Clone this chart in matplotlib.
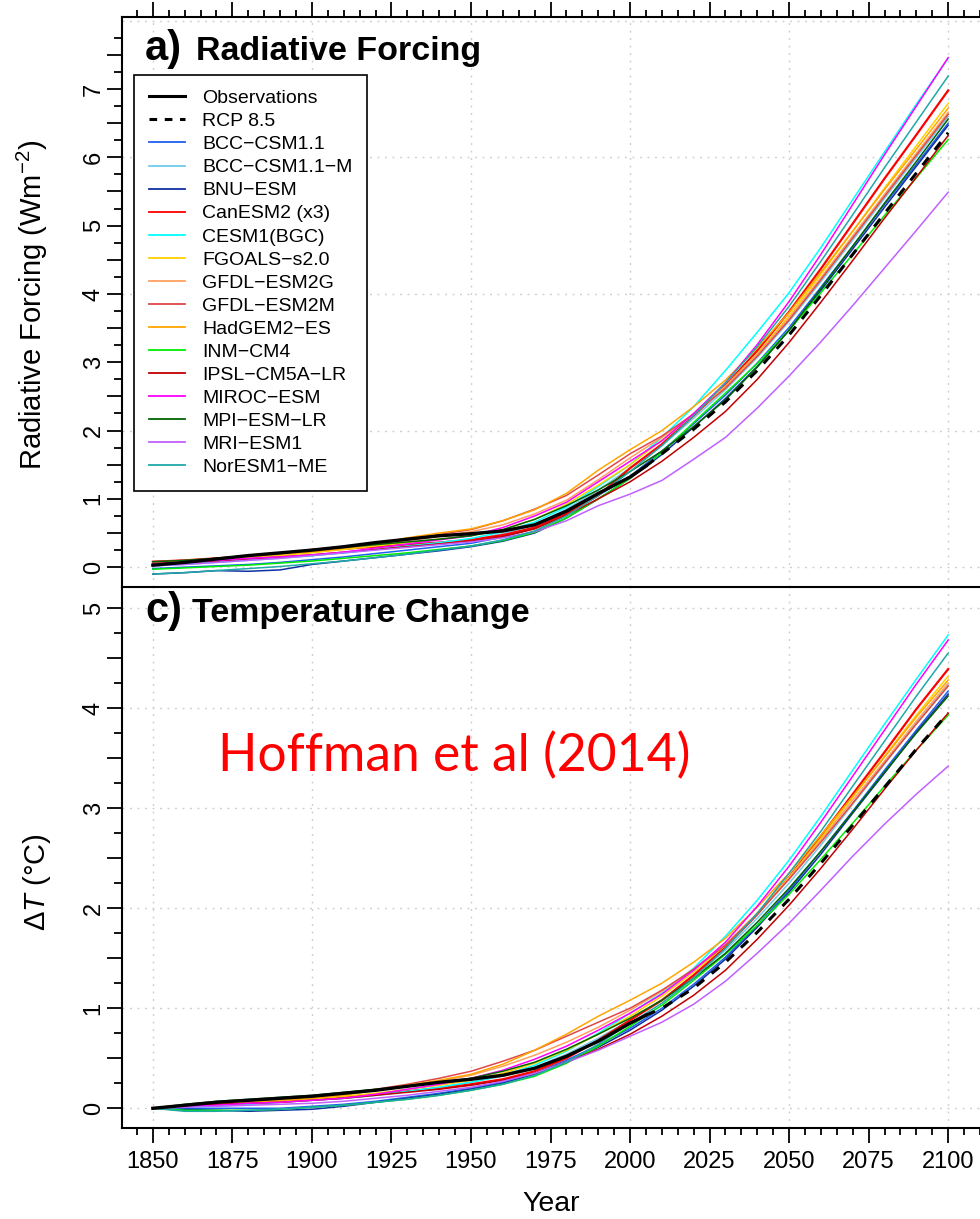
import matplotlib
matplotlib.use('Agg')
import matplotlib.pyplot as plt
from matplotlib.ticker import MultipleLocator, FixedLocator, FuncFormatter
from matplotlib.lines import Line2D

plt.rcParams['font.family'] = ['Liberation Sans', 'DejaVu Sans']
plt.rcParams['mathtext.fontset'] = 'custom'
plt.rcParams['mathtext.rm'] = 'Liberation Sans'
plt.rcParams['mathtext.it'] = 'Liberation Sans:italic'
plt.rcParams['mathtext.bf'] = 'Liberation Sans:bold'

# ---------------- data ----------------
years = [1850, 1860, 1870, 1880, 1890, 1900, 1910, 1920, 1930, 1940, 1950, 1960, 1970,
         1980, 1990, 2000, 2010, 2020, 2030, 2040, 2050, 2060, 2070, 2080, 2090, 2100]
obs_years = [1850, 1860, 1870, 1880, 1890, 1900, 1910, 1920, 1930, 1940, 1950, 1960,
             1970, 1980, 1990, 2000, 2005]
rcp_years = [2005, 2010, 2020, 2030, 2040, 2050, 2060, 2070, 2080, 2090, 2100]

model_names = ['BCC\u2212CSM1.1', 'BCC\u2212CSM1.1\u2212M', 'BNU\u2212ESM', 'CanESM2 (x3)',
               'CESM1(BGC)', 'FGOALS\u2212s2.0', 'GFDL\u2212ESM2G', 'GFDL\u2212ESM2M',
               'HadGEM2\u2212ES', 'INM\u2212CM4', 'IPSL\u2212CM5A\u2212LR', 'MIROC\u2212ESM',
               'MPI\u2212ESM\u2212LR', 'MRI\u2212ESM1', 'NorESM1\u2212ME']
model_colors = ['#2060F0', '#70CCE8', '#1030A0', '#FF0000', '#00FFFF', '#FFD000',
                '#FFA060', '#E04848', '#FFA500', '#00EE00', '#C00000', '#FF00FF',
                '#006400', '#C060FF', '#20A8A8']

# Radiative forcing (W m-2)
rf_obs = [0.03, 0.07, 0.12, 0.17, 0.21, 0.25, 0.30, 0.36, 0.41, 0.46, 0.49, 0.53, 0.62,
          0.82, 1.08, 1.32, 1.48]
rf_rcp = [1.48, 1.66, 2.02, 2.42, 2.88, 3.40, 3.98, 4.58, 5.18, 5.77, 6.36]
rf_bcc = [-0.02, 0.00, 0.02, 0.04, 0.07, 0.11, 0.15, 0.20, 0.25, 0.30, 0.35, 0.44, 0.57,
          0.80, 1.05, 1.33, 1.70, 2.10, 2.52, 2.99, 3.51, 4.10, 4.70, 5.31, 5.90, 6.50]
rf_bccm = [0.02, 0.04, 0.07, 0.10, 0.13, 0.17, 0.21, 0.26, 0.30, 0.35, 0.40, 0.49, 0.62,
           0.85, 1.13, 1.45, 1.78, 2.18, 2.60, 3.07, 3.60, 4.18, 4.79, 5.40, 6.00, 6.60]
rf_bnu = [-0.10, -0.08, -0.05, -0.06, -0.04, 0.04, 0.09, 0.14, 0.19, 0.24, 0.30, 0.38, 0.50,
          0.72, 1.00, 1.30, 1.65, 2.05, 2.47, 2.94, 3.47, 4.05, 4.66, 5.27, 5.87, 6.47]
rf_can = [0.08, 0.10, 0.13, 0.16, 0.20, 0.23, 0.27, 0.30, 0.33, 0.36, 0.40, 0.47, 0.58,
          0.78, 1.05, 1.45, 1.80, 2.22, 2.66, 3.17, 3.74, 4.37, 5.03, 5.69, 6.33, 6.98]
rf_cesm = [0.02, 0.05, 0.08, 0.11, 0.14, 0.17, 0.21, 0.26, 0.31, 0.36, 0.42, 0.52, 0.66,
           0.88, 1.18, 1.50, 1.90, 2.35, 2.88, 3.44, 4.02, 4.68, 5.38, 6.08, 6.78, 7.45]
rf_fgoals = [0.04, 0.07, 0.10, 0.13, 0.17, 0.21, 0.26, 0.31, 0.36, 0.41, 0.46, 0.55, 0.70,
             0.92, 1.20, 1.50, 1.86, 2.24, 2.65, 3.13, 3.68, 4.29, 4.92, 5.55, 6.17, 6.79]
rf_gfdlg = [0.06, 0.09, 0.12, 0.15, 0.19, 0.24, 0.28, 0.33, 0.39, 0.45, 0.52, 0.62, 0.78,
            0.98, 1.28, 1.60, 1.90, 2.25, 2.65, 3.12, 3.65, 4.24, 4.85, 5.46, 6.06, 6.66]
rf_gfdlm = [0.08, 0.10, 0.12, 0.16, 0.20, 0.26, 0.30, 0.34, 0.40, 0.48, 0.55, 0.68, 0.85,
            1.05, 1.35, 1.66, 1.92, 2.24, 2.62, 3.09, 3.62, 4.21, 4.82, 5.43, 6.03, 6.63]
rf_had = [0.05, 0.08, 0.11, 0.15, 0.19, 0.23, 0.28, 0.34, 0.43, 0.50, 0.56, 0.68, 0.84,
          1.08, 1.42, 1.72, 2.00, 2.35, 2.74, 3.21, 3.73, 4.32, 4.92, 5.53, 6.12, 6.72]
rf_inm = [-0.03, -0.01, 0.01, 0.03, 0.06, 0.09, 0.13, 0.17, 0.21, 0.26, 0.31, 0.39, 0.51,
          0.72, 1.00, 1.30, 1.68, 2.12, 2.55, 2.98, 3.47, 4.02, 4.58, 5.15, 5.70, 6.26]
rf_ipsl = [0.05, 0.07, 0.09, 0.12, 0.15, 0.18, 0.22, 0.26, 0.30, 0.34, 0.38, 0.45, 0.56,
           0.76, 1.00, 1.25, 1.55, 1.90, 2.28, 2.75, 3.29, 3.88, 4.49, 5.11, 5.71, 6.32]
rf_miroc = [0.05, 0.07, 0.10, 0.13, 0.15, 0.18, 0.22, 0.28, 0.34, 0.40, 0.46, 0.58, 0.75,
            0.95, 1.25, 1.55, 1.85, 2.25, 2.70, 3.26, 3.89, 4.58, 5.31, 6.04, 6.75, 7.46]
rf_mpi = [0.08, 0.10, 0.13, 0.17, 0.20, 0.25, 0.29, 0.33, 0.37, 0.41, 0.46, 0.55, 0.70,
          0.90, 1.13, 1.40, 1.70, 2.06, 2.45, 2.93, 3.47, 4.08, 4.70, 5.33, 5.94, 6.56]
rf_mri = [0.02, 0.04, 0.07, 0.10, 0.13, 0.17, 0.21, 0.25, 0.29, 0.33, 0.37, 0.43, 0.52,
          0.68, 0.90, 1.07, 1.27, 1.58, 1.90, 2.33, 2.80, 3.30, 3.83, 4.38, 4.93, 5.49]
rf_nor = [-0.10, -0.08, -0.05, -0.02, 0.01, 0.05, 0.09, 0.14, 0.19, 0.25, 0.31, 0.40, 0.53,
          0.75, 1.05, 1.40, 1.78, 2.22, 2.70, 3.23, 3.82, 4.48, 5.16, 5.85, 6.52, 7.19]

# Temperature change (deg C)
dt_obs = [0.00, 0.03, 0.06, 0.08, 0.10, 0.12, 0.15, 0.18, 0.22, 0.26, 0.29, 0.33, 0.40,
          0.52, 0.67, 0.85, 0.93]
dt_rcp = [0.93, 1.00, 1.20, 1.46, 1.76, 2.09, 2.45, 2.83, 3.21, 3.59, 3.95]
dt_bcc = [0.00, 0.00, 0.00, 0.00, 0.00, 0.02, 0.04, 0.07, 0.11, 0.15, 0.20, 0.26, 0.35,
          0.48, 0.63, 0.80, 1.00, 1.24, 1.51, 1.83, 2.18, 2.57, 2.97, 3.38, 3.78, 4.17]
dt_bccm = [0.00, 0.01, 0.03, 0.04, 0.06, 0.08, 0.10, 0.13, 0.17, 0.21, 0.26, 0.32, 0.41,
           0.54, 0.70, 0.88, 1.08, 1.32, 1.58, 1.90, 2.25, 2.63, 3.04, 3.44, 3.85, 4.23]
dt_bnu = [0.00, -0.01, -0.02, -0.03, -0.02, -0.01, 0.02, 0.06, 0.10, 0.14, 0.19, 0.25, 0.34,
          0.46, 0.61, 0.78, 0.98, 1.22, 1.49, 1.81, 2.16, 2.54, 2.95, 3.35, 3.76, 4.14]
dt_can = [0.00, 0.02, 0.04, 0.05, 0.07, 0.09, 0.11, 0.14, 0.17, 0.20, 0.24, 0.29, 0.37,
          0.50, 0.68, 0.88, 1.08, 1.33, 1.61, 1.94, 2.31, 2.72, 3.14, 3.56, 3.99, 4.39]
dt_cesm = [0.00, 0.01, 0.02, 0.04, 0.06, 0.08, 0.10, 0.13, 0.17, 0.21, 0.26, 0.33, 0.43,
           0.57, 0.75, 0.95, 1.15, 1.40, 1.72, 2.08, 2.48, 2.92, 3.38, 3.84, 4.29, 4.73]
dt_fgoals = [0.00, 0.02, 0.04, 0.05, 0.07, 0.09, 0.12, 0.15, 0.19, 0.23, 0.28, 0.35, 0.45,
             0.58, 0.74, 0.92, 1.12, 1.36, 1.63, 1.95, 2.31, 2.70, 3.11, 3.52, 3.93, 4.32]
dt_gfdlg = [0.00, 0.02, 0.04, 0.06, 0.08, 0.11, 0.14, 0.18, 0.22, 0.27, 0.33, 0.42, 0.53,
            0.66, 0.81, 0.98, 1.17, 1.39, 1.64, 1.95, 2.30, 2.68, 3.08, 3.47, 3.87, 4.25]
dt_gfdlm = [0.00, 0.03, 0.05, 0.07, 0.09, 0.12, 0.15, 0.19, 0.24, 0.30, 0.37, 0.47, 0.58,
            0.72, 0.86, 1.00, 1.18, 1.39, 1.63, 1.94, 2.29, 2.66, 3.05, 3.45, 3.84, 4.22]
dt_had = [0.00, 0.02, 0.04, 0.06, 0.08, 0.10, 0.13, 0.18, 0.23, 0.28, 0.34, 0.44, 0.58,
          0.74, 0.92, 1.08, 1.25, 1.46, 1.70, 2.01, 2.35, 2.73, 3.12, 3.51, 3.91, 4.28]
dt_inm = [0.00, -0.02, -0.02, -0.02, -0.01, 0.01, 0.03, 0.06, 0.09, 0.13, 0.18, 0.24, 0.32,
          0.45, 0.62, 0.82, 1.03, 1.28, 1.54, 1.83, 2.14, 2.49, 2.85, 3.22, 3.58, 3.93]
dt_ipsl = [0.00, 0.02, 0.04, 0.05, 0.06, 0.08, 0.10, 0.13, 0.16, 0.19, 0.23, 0.28, 0.35,
           0.46, 0.59, 0.74, 0.92, 1.13, 1.38, 1.69, 2.03, 2.40, 2.79, 3.19, 3.58, 3.95]
dt_miroc = [0.00, 0.02, 0.03, 0.05, 0.06, 0.08, 0.10, 0.14, 0.19, 0.24, 0.30, 0.38, 0.49,
            0.62, 0.78, 0.95, 1.14, 1.38, 1.66, 2.02, 2.42, 2.86, 3.32, 3.78, 4.24, 4.68]
dt_mpi = [0.00, 0.04, 0.07, 0.09, 0.11, 0.13, 0.16, 0.19, 0.22, 0.26, 0.30, 0.37, 0.46,
          0.59, 0.74, 0.90, 1.08, 1.30, 1.55, 1.86, 2.20, 2.57, 2.96, 3.36, 3.75, 4.12]
dt_mri = [0.00, 0.01, 0.02, 0.03, 0.04, 0.05, 0.07, 0.10, 0.13, 0.17, 0.21, 0.27, 0.35,
          0.46, 0.58, 0.72, 0.86, 1.04, 1.27, 1.55, 1.85, 2.18, 2.52, 2.84, 3.14, 3.42]
dt_nor = [0.00, -0.03, -0.03, -0.02, -0.01, 0.01, 0.03, 0.06, 0.09, 0.13, 0.18, 0.24, 0.33,
          0.46, 0.64, 0.85, 1.05, 1.30, 1.60, 1.95, 2.35, 2.77, 3.22, 3.67, 4.12, 4.55]

rf_models = [rf_bcc, rf_bccm, rf_bnu, rf_can, rf_cesm, rf_fgoals, rf_gfdlg, rf_gfdlm,
             rf_had, rf_inm, rf_ipsl, rf_miroc, rf_mpi, rf_mri, rf_nor]
dt_models = [dt_bcc, dt_bccm, dt_bnu, dt_can, dt_cesm, dt_fgoals, dt_gfdlg, dt_gfdlm,
             dt_had, dt_inm, dt_ipsl, dt_miroc, dt_mpi, dt_mri, dt_nor]

rf_major_ticks = [0, 0.5, 1, 1.5, 2, 2.5, 3, 3.5, 4, 4.5, 5, 5.5, 6, 6.5, 7, 7.5]
rf_minor_ticks = [0.25, 0.75, 1.25, 1.75, 2.25, 2.75, 3.25, 3.75, 4.25, 4.75, 5.25, 5.75,
                  6.25, 6.75, 7.25, 7.75]
dt_major_ticks = [0, 0.5, 1, 1.5, 2, 2.5, 3, 3.5, 4, 4.5, 5]
dt_minor_ticks = [0.25, 0.75, 1.25, 1.75, 2.25, 2.75, 3.25, 3.75, 4.25, 4.75]

# ---------------- figure ----------------
W, H = 980, 1219
fig = plt.figure(figsize=(W / 100, H / 100), dpi=100, facecolor='white')

def px_box(l, t, r, b):
    return [l / W, 1 - b / H, (r - l) / W, (b - t) / H]

ax1 = fig.add_axes(px_box(122, 17.3, 980, 587))
ax2 = fig.add_axes(px_box(122, 587, 980, 1128))

grid_kw = dict(color='#cfcfcf', lw=1.0, dashes=(1.4, 4.0), zorder=0.5)

def int_fmt(v, p):
    r = round(v)
    return f'{int(r)}' if abs(v - r) < 1e-6 else ''

for ax, ylim, ygrid, majt, mint in [
        (ax1, (-0.29, 8.05), [0, 2, 4, 6, 8], rf_major_ticks, rf_minor_ticks),
        (ax2, (-0.197, 5.21), [0, 1, 2, 3, 4, 5], dt_major_ticks, dt_minor_ticks)]:
    ax.set_xlim(1840.3, 2110)
    ax.set_ylim(*ylim)
    for gx in range(1850, 2101, 50):
        ax.axvline(gx, **grid_kw)
    for gy in ygrid:
        ax.axhline(gy, **grid_kw)
    ax.spines['right'].set_visible(False)
    for s in ax.spines.values():
        s.set_linewidth(1.5)
    ax.xaxis.set_major_locator(MultipleLocator(25))
    ax.xaxis.set_minor_locator(MultipleLocator(5))
    ax.yaxis.set_major_locator(FixedLocator(majt))
    ax.yaxis.set_minor_locator(FixedLocator(mint))
    ax.yaxis.set_major_formatter(FuncFormatter(int_fmt))
    ax.tick_params(axis='y', which='major', direction='out', length=10.5, width=1.3,
                   labelsize=17, pad=2, labelrotation=90)
    ax.tick_params(axis='y', which='minor', direction='out', length=6, width=1.3)
    for lab in ax.get_yticklabels():
        lab.set_va('center')

ax1.spines['bottom'].set_visible(False)
ax1.tick_params(axis='x', which='both', bottom=False, top=True, labelbottom=False,
                labeltop=False, direction='out', width=1.3)
ax1.tick_params(axis='x', which='major', length=10.5)
ax1.tick_params(axis='x', which='minor', length=5)

ax2.tick_params(axis='x', which='both', bottom=True, top=False, direction='out', width=1.3)
ax2.tick_params(axis='x', which='major', length=10.5, labelsize=17, pad=6)
ax2.tick_params(axis='x', which='minor', length=5)

# model lines
for name, col, rf, dt in zip(model_names, model_colors, rf_models, dt_models):
    lw = 1.6 if name.startswith('CanESM2') else 1.1
    ax1.plot(years, rf, color=col, lw=lw, zorder=2)
    ax2.plot(years, dt, color=col, lw=lw, zorder=2)

for ax, obs, rcp in [(ax1, rf_obs, rf_rcp), (ax2, dt_obs, dt_rcp)]:
    ax.plot(rcp_years, rcp, color='black', lw=2.2, dashes=(3.2, 3.2), zorder=3)
    ax.plot(obs_years, obs, color='black', lw=2.4, zorder=3)

# legend
handles = [Line2D([], [], color='black', lw=2.2),
           Line2D([], [], color='black', lw=2.2, dashes=(2.5, 2.5))]
handles += [Line2D([], [], color=c, lw=1.3) for c in model_colors]
labels = ['Observations', 'RCP 8.5'] + model_names
leg = ax1.legend(handles, labels, loc='upper left',
                 bbox_to_anchor=(134 / W, 1 - 75 / H), bbox_transform=fig.transFigure,
                 borderaxespad=0, fontsize=14, frameon=True, fancybox=False,
                 edgecolor='black', framealpha=1, borderpad=0.75, labelspacing=0.28,
                 handlelength=1.85, handletextpad=0.9)
leg.get_frame().set_linewidth(1.2)
leg.set_zorder(5)

# titles
def ftext(x, y, s, **kw):
    return fig.text(x / W, 1 - y / H, s, **kw)

ftext(145, 60, 'a)', fontsize=30, fontweight='bold', va='baseline')
ftext(196.5, 60, 'Radiative Forcing', fontsize=24.5, fontweight='bold', va='baseline')
ftext(145, 622, 'c)', fontsize=30, fontweight='bold', va='baseline')
ftext(192, 622, 'Temperature Change', fontsize=24.5, fontweight='bold', va='baseline')

# axis labels
ftext(42, 305, 'Radiative Forcing (Wm$^{\u22122}$)', fontsize=21, rotation=90,
      rotation_mode='anchor', ha='center', va='baseline')
ftext(45, 882, '\u0394$\\mathit{T}$ (\u00b0C)', fontsize=21, rotation=90,
      rotation_mode='anchor', ha='center', va='baseline')
ftext(551, 1211, 'Year', fontsize=20.5, ha='center', va='baseline')

# annotation
t = ftext(218, 771, 'Hoffman et al (2014)', fontsize=40, color='#FF0000',
          family=['Lato', 'DejaVu Sans'], va='baseline')
fig.canvas.draw()
w = t.get_window_extent().width
t.set_fontsize(40 * 472 / w)

fig.savefig('out.png', dpi=100, facecolor='white')
